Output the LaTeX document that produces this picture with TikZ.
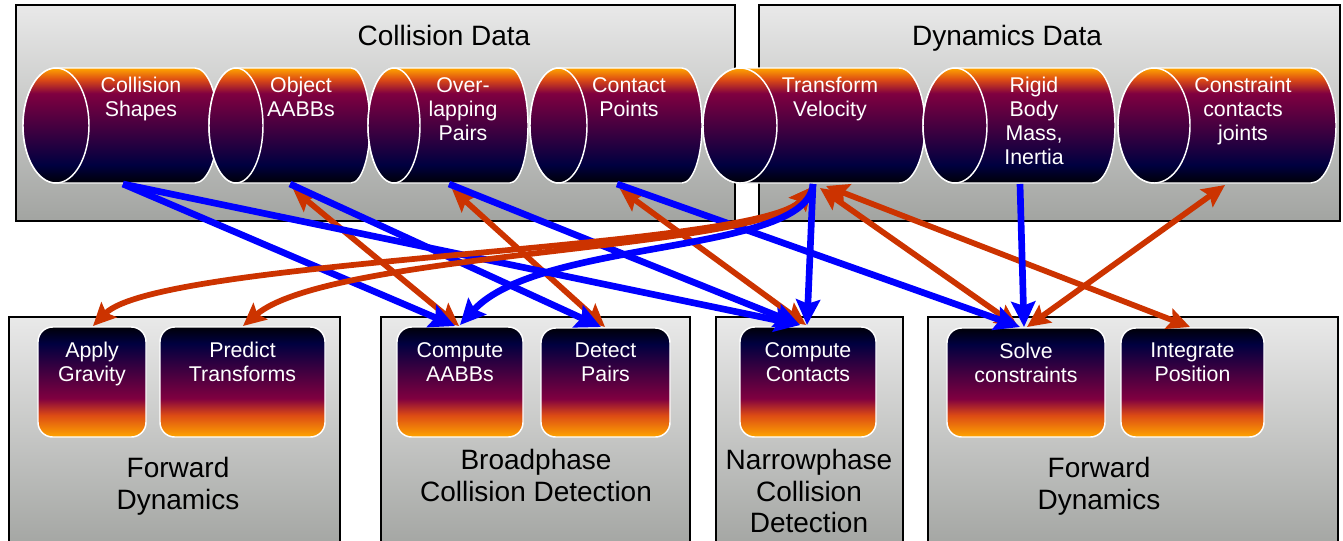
\documentclass[tikz,border=0pt]{standalone}
\usepackage{fontspec}
\setmainfont{Liberation Sans}
\usetikzlibrary{arrows.meta,calc}

\definecolor{cOr}{RGB}{255,165,0}
\definecolor{cRo}{RGB}{220,75,20}
\definecolor{cMa}{RGB}{128,0,64}
\definecolor{cNa}{RGB}{0,0,64}
\definecolor{cBk}{RGB}{0,0,8}
\definecolor{gTop}{RGB}{233,233,233}
\definecolor{gBot}{RGB}{162,164,161}
\definecolor{aBlue}{RGB}{0,0,255}
\definecolor{aOr}{RGB}{204,51,0}

\pgfdeclareverticalshading{cylshade}{100bp}{color(0bp)=(cBk); color(25bp)=(cBk); color(33bp)=(cNa); color(64bp)=(cMa); color(70bp)=(cRo); color(75bp)=(cOr); color(100bp)=(cOr)}
\pgfdeclareverticalshading{taskshade}{100bp}{color(0bp)=(cOr); color(25bp)=(cOr); color(35bp)=(cRo); color(42.5bp)=(cMa); color(67.5bp)=(cNa); color(75bp)=(cBk); color(100bp)=(cBk)}

\tikzset{
 grp/.style={draw=black, line width=1.1pt, top color=gTop, bottom color=gBot},
 cylb/.style={draw=white, line width=1.1pt, shading=cylshade},
 cylnode/.style={inner sep=0pt, outer sep=0pt, minimum height=86.25pt},
 ctext/.style={text=white, align=center, inner sep=0pt, font=\fontsize{16}{18}\selectfont},
 taskbox/.style={shade, shading=taskshade, draw=white, line width=1.1pt, rounded corners=11pt, inner sep=0pt, outer sep=0pt},
 ttext/.style={text=white, align=center, inner sep=0pt, font=\fontsize{16}{18}\selectfont},
 title/.style={align=center, inner sep=0pt, font=\fontsize{21}{23.6}\selectfont},
 blu/.style={draw=aBlue, line width=5pt, -{Stealth[length=19pt,width=18pt,inset=3pt]}},
 org/.style={draw=aOr, line width=4.3pt, {Stealth[length=17pt,width=16pt,inset=3pt]}-{Stealth[length=17pt,width=16pt,inset=3pt]}},
}

% name, L, R, face rx, text x, text
\newcommand\mycyl[6]{%
 \shadedraw[cylb] ({#2+#4},68) -- ({#3-0.7*#4},68) arc[start angle=-90, end angle=90, x radius={0.7*#4}, y radius=57.5] -- ({#2+#4},183) arc[start angle=90, end angle=270, x radius=#4, y radius=57.5] -- cycle;
 \shadedraw[cylb] ({#2+#4},125.5) ellipse[x radius=#4, y radius=57.5];
 \node[cylnode, minimum width={(#3-#2)*0.75pt}] (#1) at ({(#2+#3)/2},125.5) {};
 \node[ctext, anchor=north] (#1-t) at (#5,77) {#6};
}
% name, L, T, R, B, text
\newcommand\mytask[6]{%
 \node[taskbox, minimum width={(#4-#2)*0.75pt}, minimum height={(#5-#3)*0.75pt}] (#1) at ({(#2+#4)/2},{(#3+#5)/2}) {};
 \node[ttext, anchor=north] (#1-t) at ({(#2+#4)/2},{#3+15}) {#6};
}

\begin{document}
\begin{tikzpicture}[x=0.75pt,y=-0.75pt]
\useasboundingbox (0,0) rectangle (1343,540);
\fill[white] (0,0) rectangle (1343,540);

% group boxes
\shadedraw[grp] (16,5) rectangle (735,221);
\shadedraw[grp] (759,5) rectangle (1340,221);
\shadedraw[grp] (9,317) rectangle (340,552);
\shadedraw[grp] (381,317) rectangle (690,552);
\shadedraw[grp] (716,317) rectangle (903,552);
\shadedraw[grp] (928,317) rectangle (1338,552);

\node[title, anchor=north] (cdt) at (444,25) {Collision Data};
\node[title, anchor=north] (ddt) at (1007,25) {Dynamics Data};
\node[title, anchor=north] (fd1) at (178,457) {Forward\\Dynamics};
\node[title, anchor=north] (bpt) at (536,449) {Broadphase\\Collision Detection};
\node[title, anchor=north] (npt) at (809,449) {Narrowphase\\Collision\\Detection};
\node[title, anchor=north] (fd2) at (1099,457) {Forward\\Dynamics};

% cylinders
\mycyl{cs}{23}{218}{33}{141}{Collision\\Shapes}
\mycyl{oa}{209}{370}{27}{301}{Object\\AABBs}
\mycyl{op}{368}{528}{26}{463}{Over-\\lapping\\Pairs}
\mycyl{cp}{530}{702}{28.5}{629}{Contact\\Points}
\mycyl{tv}{703}{925}{37}{830}{Transform\\Velocity}
\mycyl{rb}{923}{1115}{32}{1034}{Rigid\\Body\\Mass,\\Inertia}
\mycyl{cj}{1118}{1336}{36}{1243}{Constraint\\contacts\\joints}

% tasks
\mytask{ag}{38}{327}{146}{437}{Apply\\Gravity}
\mytask{pt}{160}{327}{325}{437}{Predict\\Transforms}
\mytask{ca}{397}{327}{523}{437}{Compute\\AABBs}
\mytask{dp}{541}{328}{670}{437}{Detect\\Pairs}
\mytask{cc}{740}{327}{876}{437}{Compute\\Contacts}
\mytask{sc}{947}{328}{1105}{437}{Solve\\constraints}
\mytask{ip}{1121}{328}{1264}{437}{Integrate\\Position}

% orange (read/write) connectors
\draw[org] ($(oa.south west)+(84,6)$) -- ($(ca.north west)+(62,-1)$);
\draw[org] ($(op.south west)+(84,6)$) -- ($(dp.north west)+(64,-1)$);
\draw[org] ($(cp.south west)+(90,6)$) -- ($(cc.north west)+(66,-2)$);
\draw[org] ($(tv.south west)+(117,5)$) -- ($(sc.north west)+(71,-1)$);
\draw[org] ($(tv.south west)+(123,3)$) -- ($(ip.north west)+(69,-1)$);
\draw[org] ($(cj.south west)+(107,2)$) -- ($(sc.north west)+(80,-1)$);

% blue connectors
\draw[blu] ($(cs.south west)+(100,1)$) -- ($(ca.north west)+(58,-1)$);
\draw[blu] ($(cs.south west)+(100,1)$) -- ($(cc.north west)+(60,-2)$);
\draw[blu] ($(oa.south west)+(81,1)$) -- ($(dp.north west)+(60,-1)$);
\draw[blu] ($(op.south west)+(81,1)$) -- ($(cc.north west)+(60,-2)$);
\draw[blu] ($(cp.south west)+(87,1)$) -- ($(sc.north west)+(73,-1)$);
\draw[blu] ($(tv.south west)+(110,1)$) -- ($(cc.north west)+(67,-2)$);
\draw[blu] ($(rb.south west)+(97,1)$) -- ($(sc.north west)+(77,-1)$);

% curved orange connectors
\draw[org] ($(tv.south west)+(109,4)$) .. controls (760,250) and (160,258) .. ($(ag.north west)+(55,-1)$);
\draw[org] ($(tv.south west)+(109,4)$) .. controls (760,250) and (330,252) .. ($(pt.north west)+(83,-1)$);

% curved blue connector
\draw[blu] ($(tv.south west)+(110,1)$) .. controls (808,255) and (540,238) .. ($(ca.north west)+(63,-2)$);
\end{tikzpicture}
\end{document}
